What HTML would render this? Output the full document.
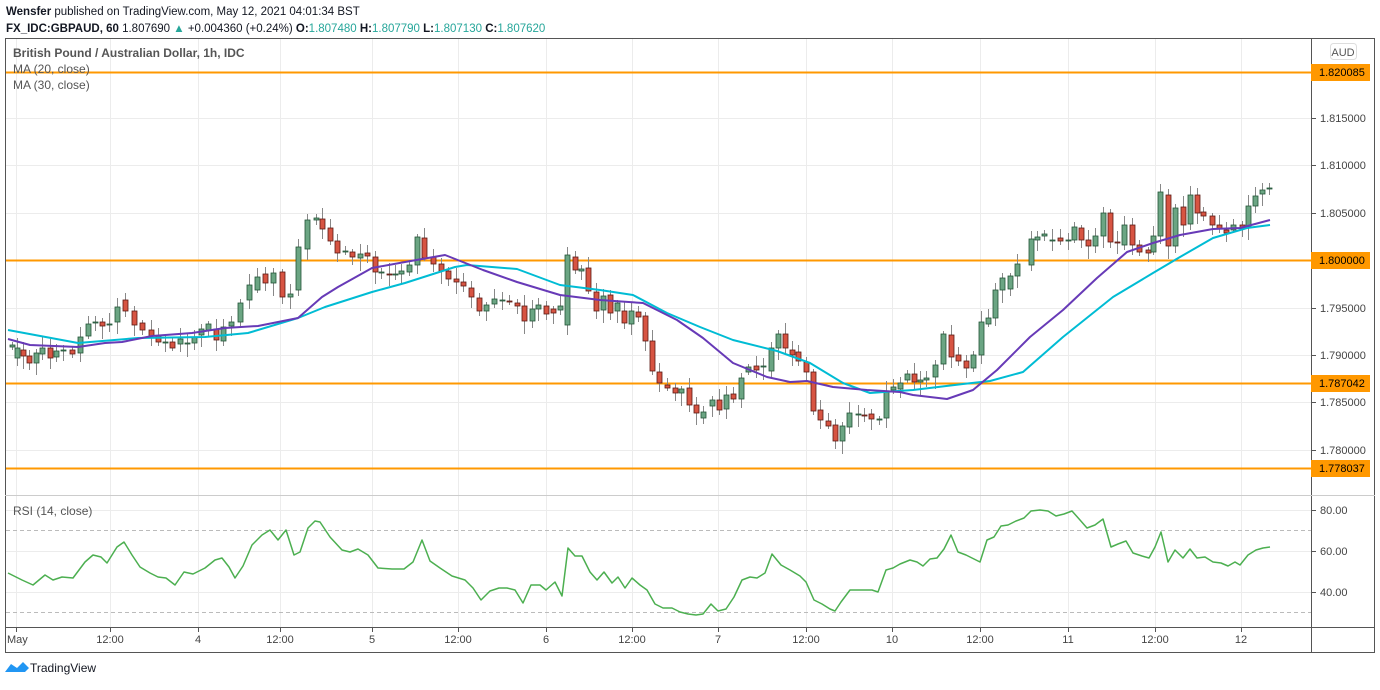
<!DOCTYPE html>
<html><head><meta charset="utf-8"><style>
body{margin:0;background:#fff;width:1380px;height:685px;overflow:hidden;font-family:"Liberation Sans",sans-serif}
</style></head><body>
<svg id="s" width="1380" height="685" xmlns="http://www.w3.org/2000/svg" font-family="Liberation Sans, sans-serif">
<text x="6" y="15" font-size="11.5" fill="#131722"><tspan font-weight="bold">Wensfer</tspan> published on TradingView.com, May 12, 2021 04:01:34 BST</text>
<text x="6" y="32" font-size="11.5" fill="#131722"><tspan font-weight="bold">FX_IDC:GBPAUD, 60</tspan> 1.807690 <tspan fill="#26a69a">▲</tspan> +0.004360 (+0.24%) <tspan font-weight="bold">O:</tspan><tspan fill="#26a69a">1.807480</tspan> <tspan font-weight="bold">H:</tspan><tspan fill="#26a69a">1.807790</tspan> <tspan font-weight="bold">L:</tspan><tspan fill="#26a69a">1.807130</tspan> <tspan font-weight="bold">C:</tspan><tspan fill="#26a69a">1.807620</tspan></text>
<g id="grid" stroke="#ececec" stroke-width="1"></g>
<g id="main"></g>
<rect x="5.5" y="38.5" width="1369" height="614" fill="none" stroke="#555"/>
<line x1="1311.5" y1="38" x2="1311.5" y2="652" stroke="#555"/>
<line x1="5" y1="627.5" x2="1375" y2="627.5" stroke="#555"/>
<line x1="5" y1="495.5" x2="1375" y2="495.5" stroke="#ccc"/>
<text x="13" y="57" font-size="12" fill="#555" font-weight="bold">British Pound / Australian Dollar, 1h, IDC</text>
<text x="13" y="73" font-size="12" fill="#555">MA (20, close)</text>
<text x="13" y="89" font-size="12" fill="#555">MA (30, close)</text>
<text x="13" y="515" font-size="12" fill="#555">RSI (14, close)</text>
<rect x="1330.5" y="43.5" width="26" height="16" rx="3" fill="#fff" stroke="#ddd"/>
<text x="1343" y="56" font-size="11" fill="#555" text-anchor="middle">AUD</text>
<g id="axis" font-size="11" fill="#444"></g>
<g transform="translate(5,660)"><path d="M0 12 L6 4 L12 8 L18 2 L24 8 L20 12 Z" fill="#2196f3"/><text x="25" y="12" font-size="12" fill="#131722">TradingView</text></g>
</svg>
<script>
var NS="http://www.w3.org/2000/svg";
function el(p,t,a,tx){var e=document.createElementNS(NS,t);for(var k in a)e.setAttribute(k,a[k]);if(tx!=null)e.textContent=tx;document.getElementById(p).appendChild(e);return e;}
var tx=[[16,"May"],[110,"12:00"],[198,"4"],[280,"12:00"],[372,"5"],[458,"12:00"],[546,"6"],[632,"12:00"],[718,"7"],[806,"12:00"],[892,"10"],[980,"12:00"],[1068,"11"],[1155,"12:00"],[1241,"12"]];
tx.forEach(function(t){el("grid","line",{x1:t[0]+.5,y1:39,x2:t[0]+.5,y2:627});
el("axis","line",{x1:t[0]+.5,y1:627,x2:t[0]+.5,y2:632,stroke:"#555"});
el("axis","text",{x:t[1]=="May"?t[0]-9:t[0],y:643,"text-anchor":t[1]=="May"?"start":"middle"},t[1]);});
var py=[[118,"1.815000"],[165,"1.810000"],[213,"1.805000"],[260,"1.800000"],[308,"1.795000"],[355,"1.790000"],[402,"1.785000"],[450,"1.780000"]];
py.forEach(function(p){el("grid","line",{x1:6,y1:p[0]+.5,x2:1311,y2:p[0]+.5});el("axis","line",{x1:1311,y1:p[0]+.5,x2:1316,y2:p[0]+.5,stroke:"#555"});el("axis","text",{x:1320,y:p[0]+4},p[1]);});
[[510,"80.00"],[551,"60.00"],[592,"40.00"]].forEach(function(p){el("grid","line",{x1:6,y1:p[0]+.5,x2:1311,y2:p[0]+.5});el("axis","line",{x1:1311,y1:p[0]+.5,x2:1316,y2:p[0]+.5,stroke:"#555"});el("axis","text",{x:1320,y:p[0]+4},p[1]);});
[530,612].forEach(function(y){el("main","line",{x1:6,y1:y+.5,x2:1311,y2:y+.5,stroke:"#bbb","stroke-dasharray":"4,3"});});
[[72,"1.820085"],[260,"1.800000"],[383,"1.787042"],[468,"1.778037"]].forEach(function(l){
el("main","line",{x1:6,y1:l[0]+.5,x2:1311,y2:l[0]+.5,stroke:"#ff9800","stroke-width":2});
el("axis","rect",{x:1311,y:l[0]-8,width:59,height:17,fill:"#ff9800"});
el("axis","text",{x:1319,y:l[0]+4,fill:"#000"},l[1]);});
var C=[[12,345,347,1],[17,348,358,1],[23,350,356,0],[29,356,363,0],[36,353,363,1],[42,348,354,1],[50,348,358,0],[56,351,357,1],[63,350,351,1],[72,350,354,0],[80,337,353,1],[88,324,336,1],[95,322,323,1],[102,322,326,0],[109,324,325,1],[117,307,322,1],[125,300,311,0],[134,311,325,0],[142,323,330,0],[151,330,336,0],[158,336,342,0],[165,342,343,1],[172,342,348,0],[180,339,344,1],[187,343,344,1],[194,337,343,1],[201,329,335,1],[208,324,330,1],[216,329,340,0],[223,327,341,1],[231,322,326,1],[240,303,322,1],[249,285,300,1],[257,277,290,1],[265,274,283,0],[273,273,283,1],[282,272,297,0],[290,294,297,1],[298,247,290,1],[307,220,249,1],[316,218,220,1],[322,219,229,0],[330,228,241,0],[337,241,253,0],[345,251,252,1],[352,252,257,0],[360,254,258,1],[367,253,256,0],[375,257,272,0],[381,272,273,1],[389,274,275,0],[395,274,275,1],[401,271,274,1],[409,265,272,1],[417,237,265,1],[424,238,258,0],[433,257,264,0],[441,264,271,0],[448,271,279,0],[456,279,282,0],[463,282,286,0],[471,288,297,0],[479,298,311,0],[486,305,311,1],[494,299,304,1],[502,300,301,1],[509,301,302,0],[517,303,306,0],[524,306,321,0],[532,309,321,1],[538,305,309,1],[546,306,314,0],[553,309,313,0],[560,306,310,1],[567,255,325,1],[575,257,270,0],[581,269,271,1],[588,268,291,0],[596,292,311,0],[603,296,310,1],[610,295,313,0],[617,303,311,1],[624,311,323,0],[631,311,324,1],[638,312,317,0],[645,316,341,0],[652,341,371,0],[659,372,383,0],[667,385,388,0],[675,388,393,0],[681,389,393,1],[689,388,405,0],[696,405,413,0],[703,412,418,1],[712,400,406,1],[719,400,410,0],[726,395,409,1],[733,394,399,0],[741,378,399,1],[748,367,372,1],[756,366,370,0],[763,366,367,1],[771,348,371,1],[778,334,348,1],[785,334,348,0],[792,350,355,0],[798,352,361,0],[806,362,372,0],[813,372,411,0],[820,410,420,0],[828,421,426,0],[835,425,441,0],[842,426,441,1],[849,413,427,1],[858,414,415,1],[864,415,416,0],[871,414,419,0],[879,419,420,1],[886,391,418,1],[893,387,390,1],[900,383,389,1],[907,374,380,1],[914,374,382,0],[920,380,382,1],[926,378,380,1],[935,365,377,1],[943,334,364,1],[951,335,357,0],[958,355,361,0],[966,361,368,0],[973,355,368,1],[981,322,355,1],[988,318,324,1],[995,290,318,1],[1002,278,290,1],[1010,276,289,1],[1017,264,276,1],[1031,239,265,1],[1037,237,240,1],[1044,234,236,1],[1052,240,241,1],[1060,238,241,0],[1068,240,241,1],[1074,227,240,1],[1081,228,240,0],[1088,240,246,0],[1095,236,246,1],[1103,213,236,1],[1110,213,242,0],[1117,242,243,0],[1124,225,245,1],[1132,225,245,0],[1139,245,252,0],[1148,250,253,0],[1153,236,252,1],[1160,192,236,1],[1168,195,246,0],[1175,208,246,1],[1183,207,225,0],[1190,195,224,1],[1197,195,213,0],[1203,212,216,0],[1212,216,225,0],[1219,225,229,0],[1226,230,233,0],[1233,225,230,1],[1242,225,229,0],[1248,206,227,1],[1255,196,206,1],[1262,190,194,1],[1269,188,189,1]];
C.forEach(function(c,i){var t=Math.min(c[1],c[2]),b=Math.max(c[1],c[2]);var u=3+((i*7)%9),d=3+((i*5)%11);
el("main","line",{x1:c[0]+.5,y1:t-u,x2:c[0]+.5,y2:b+d,stroke:"#888","stroke-width":1});
el("main","rect",{x:c[0]-2,y:t,width:5,height:Math.max(1,b-t),fill:c[3]?"#6ba583":"#d75442",stroke:c[3]?"#225437":"#5b1a13","stroke-width":.8});});
function pl(pts,col,w){el("main","polyline",{points:pts.map(function(p){return p.join(",")}).join(" "),fill:"none",stroke:col,"stroke-width":w,"stroke-linejoin":"round"});}
pl([[8,330],[78,343],[138,338],[205,337],[248,333],[298,318],[325,307],[372,292],[405,283],[455,267],[467,265],[517,269],[560,285],[600,290],[633,295],[667,313],[700,327],[733,340],[777,351],[810,363],[843,383],[870,393],[913,390],[963,384],[990,381],[1023,372],[1063,337],[1113,297],[1153,273],[1180,257],[1213,238],[1247,228],[1270,225]],"#00bcd4",2);
pl([[8,339],[30,345],[78,347],[105,343],[122,342],[152,336],[192,333],[225,328],[258,326],[298,318],[322,297],[338,287],[372,268],[405,262],[445,255],[483,270],[517,282],[560,295],[600,300],[643,303],[677,320],[703,338],[733,363],[767,377],[790,382],[807,381],[833,387],[867,390],[900,392],[913,395],[947,399],[973,390],[997,370],[1030,337],[1063,310],[1097,278],[1127,252],[1153,243],[1180,235],[1213,229],[1240,228],[1270,220]],"#673ab7",2);
pl([[8,573],[22,580],[33,585],[45,575],[53,580],[62,577],[73,578],[85,562],[93,555],[101,557],[107,563],[117,547],[124,542],[132,555],[140,567],[150,573],[158,577],[166,578],[175,585],[184,572],[193,574],[205,568],[215,560],[222,558],[229,567],[235,578],[243,566],[252,545],[262,535],[270,530],[278,540],[286,530],[294,555],[300,552],[308,528],[315,521],[320,522],[330,537],[342,550],[350,552],[358,549],[368,555],[378,568],[392,569],[404,569],[413,562],[422,540],[430,561],[440,568],[452,576],[465,580],[473,588],[481,600],[490,591],[499,588],[507,588],[515,590],[523,603],[531,585],[540,585],[546,590],[555,582],[562,596],[568,548],[575,556],[582,556],[590,572],[597,580],[604,572],[612,583],[618,577],[625,588],[632,578],[640,585],[647,590],[655,604],[663,608],[672,608],[680,612],[688,614],[696,615],[703,614],[711,604],[718,611],[726,609],[734,597],[742,580],[750,577],[757,578],[765,573],[772,554],[781,565],[790,570],[800,576],[806,582],[814,600],[822,604],[830,609],[835,611],[841,602],[850,590],[858,590],[866,590],[872,590],[878,592],[886,570],[893,568],[900,564],[910,560],[917,562],[923,566],[930,559],[937,558],[944,549],[951,535],[958,552],[966,555],[972,558],[980,562],[987,540],[994,537],[1001,526],[1008,525],[1016,521],[1024,518],[1031,511],[1040,510],[1048,511],[1056,516],[1064,514],[1072,511],[1080,520],[1087,528],[1095,525],[1103,519],[1111,547],[1118,544],[1126,541],[1133,553],[1142,556],[1149,558],[1155,547],[1161,532],[1168,562],[1175,550],[1183,558],[1190,549],[1197,558],[1205,557],[1213,562],[1221,563],[1228,566],[1235,562],[1240,565],[1248,555],[1256,550],[1263,548],[1270,547]],"#4caf50",1.5);
</script>
</body></html>
